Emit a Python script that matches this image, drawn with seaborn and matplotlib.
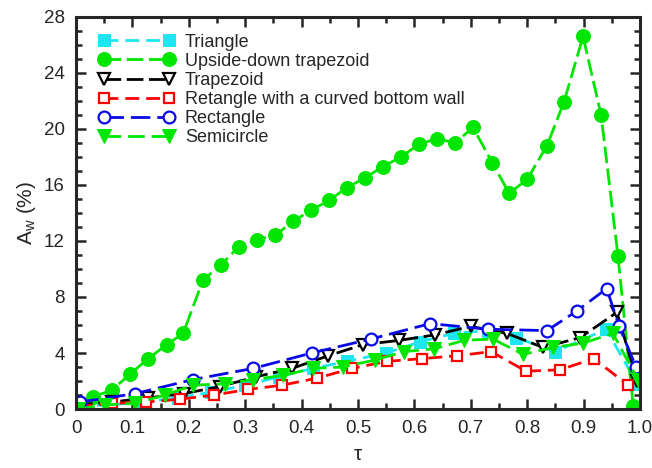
import numpy as np
import pandas as pd
import matplotlib
matplotlib.use("Agg")
import matplotlib.pyplot as plt
import seaborn as sns
from matplotlib.ticker import MultipleLocator, FuncFormatter

# ============ DATA ============
tau_tri = [0.0, 0.06, 0.12, 0.18, 0.24, 0.30, 0.36, 0.42, 0.48, 0.55, 0.61, 0.67, 0.73, 0.78, 0.85, 0.94, 0.995]
aw_tri = [0.2, 0.3, 0.5, 0.8, 1.2, 1.7, 2.3, 2.9, 3.4, 4.0, 4.8, 5.4, 5.6, 5.1, 4.1, 5.7, 1.8]

tau_udt = [0.007, 0.030, 0.064, 0.096, 0.128, 0.161, 0.190, 0.225, 0.257, 0.289, 0.321, 0.353,
           0.385, 0.417, 0.449, 0.480, 0.512, 0.544, 0.576, 0.608, 0.640, 0.672, 0.704, 0.738,
           0.768, 0.800, 0.835, 0.865, 0.899, 0.931, 0.961, 0.988]
aw_udt = [0.3, 0.86, 1.36, 2.5, 3.6, 4.6, 5.4, 9.2, 10.3, 11.6, 12.1, 12.4,
          13.4, 14.2, 14.9, 15.8, 16.5, 17.3, 18.0, 18.9, 19.3, 19.0, 20.1, 17.6,
          15.4, 16.4, 18.8, 21.9, 26.6, 21.0, 10.9, 0.2]

tau_trap = [0.0, 0.064, 0.128, 0.191, 0.255, 0.319, 0.383, 0.447, 0.509, 0.573, 0.637, 0.700, 0.764, 0.828, 0.894, 0.959, 0.995]
aw_trap = [0.3, 0.5, 0.8, 1.1, 1.6, 2.3, 2.9, 3.8, 4.6, 4.9, 5.3, 5.9, 5.4, 4.4, 5.1, 6.9, 2.0]

tau_curv = [0.004, 0.064, 0.124, 0.184, 0.245, 0.305, 0.365, 0.427, 0.489, 0.551, 0.613, 0.676, 0.736, 0.798, 0.858, 0.918, 0.979]
aw_curv = [0.2, 0.4, 0.5, 0.7, 1.0, 1.4, 1.7, 2.2, 2.9, 3.4, 3.6, 3.8, 4.1, 2.7, 2.8, 3.6, 1.7]

tau_rect = [0.007, 0.105, 0.207, 0.314, 0.418, 0.523, 0.628, 0.730, 0.835, 0.888, 0.941, 0.963, 0.993]
aw_rect = [0.5, 1.1, 2.1, 2.9, 4.0, 5.0, 6.1, 5.7, 5.6, 7.0, 8.6, 5.9, 3.0]

tau_semi = [0.004, 0.051, 0.105, 0.158, 0.207, 0.264, 0.314, 0.367, 0.420, 0.473, 0.530, 0.582, 0.635, 0.688, 0.739, 0.793, 0.846, 0.899, 0.952, 0.996]
aw_semi = [0.0, 0.3, 0.4, 1.0, 1.7, 1.8, 2.1, 2.4, 2.9, 3.0, 3.5, 4.1, 4.3, 4.9, 5.0, 3.9, 4.4, 4.7, 5.4, 2.1]

labels = ["Triangle", "Upside-down trapezoid", "Trapezoid",
          "Retangle with a curved bottom wall", "Rectangle", "Semicircle"]

# ============ STYLE ============
sns.set_style("ticks")
plt.rcParams['font.family'] = ['Liberation Sans', 'DejaVu Sans']
plt.rcParams['mathtext.fontset'] = 'custom'
plt.rcParams['mathtext.rm'] = 'Liberation Sans'
plt.rcParams['mathtext.it'] = 'Liberation Sans'

fig = plt.figure(figsize=(6.52, 4.68), dpi=100)
ax = fig.add_axes([0.1166, 0.126, 0.865, 0.838])

series = [
    (tau_tri, aw_tri, dict(color='#1ee6f0', marker='s', markersize=8, mfc='#1ee6f0', mec='#1ee6f0', linestyle=(0, (5, 2.5)))),
    (tau_udt, aw_udt, dict(color='#00e600', marker='o', markersize=10, mfc='#00e600', mec='#00e600', linestyle=(0, (6, 2)))),
    (tau_trap, aw_trap, dict(color='black', marker='v', markersize=9, mfc='white', mec='black', mew=1.6, linestyle=(0, (6, 2)))),
    (tau_curv, aw_curv, dict(color='#ff0000', marker='s', markersize=7.5, mfc='white', mec='#ff0000', mew=1.6, linestyle=(0, (5, 2.5)))),
    (tau_rect, aw_rect, dict(color='#0a0ae6', marker='o', markersize=8.5, mfc='white', mec='#0a0ae6', mew=1.6, linestyle=(0, (7, 2.5)))),
    (tau_semi, aw_semi, dict(color='#00e600', marker='v', markersize=10, mfc='#00e600', mec='#00e600', linestyle=(0, (6, 2.5)))),
]

for (x, y, kw), lab in zip(series, labels):
    df = pd.DataFrame({'tau': x, 'aw': y})
    sns.lineplot(data=df, x='tau', y='aw', ax=ax, sort=False, label=lab,
                 linewidth=2.0, **kw)

ax.set_xlim(0, 1.0)
ax.set_ylim(0, 28)
ax.xaxis.set_major_locator(MultipleLocator(0.1))
ax.xaxis.set_minor_locator(MultipleLocator(0.05))
ax.yaxis.set_major_locator(MultipleLocator(4))
ax.yaxis.set_minor_locator(MultipleLocator(1))
ax.xaxis.set_major_formatter(FuncFormatter(lambda v, p: '0' if abs(v) < 1e-9 else f'{v:.1f}'))
ax.yaxis.set_major_formatter(FuncFormatter(lambda v, p: f'{v:.0f}'))

ax.tick_params(which='both', direction='in', top=True, right=True, width=1.8, labelsize=13.5, pad=8)
ax.tick_params(which='major', length=7)
ax.tick_params(which='minor', length=4)
for s in ax.spines.values():
    s.set_linewidth(2.2)

ax.set_xlabel('τ', fontsize=15, labelpad=6)
ax.set_ylabel(r'A$_\mathrm{w}$ (%)', fontsize=15, labelpad=4)

leg = ax.legend(loc='upper left', bbox_to_anchor=(0.02, 0.985), frameon=False, fontsize=13,
                handlelength=4.2, numpoints=2, labelspacing=0.12, handletextpad=0.6,
                borderaxespad=0.2)

fig.savefig('out.png', dpi=100)
